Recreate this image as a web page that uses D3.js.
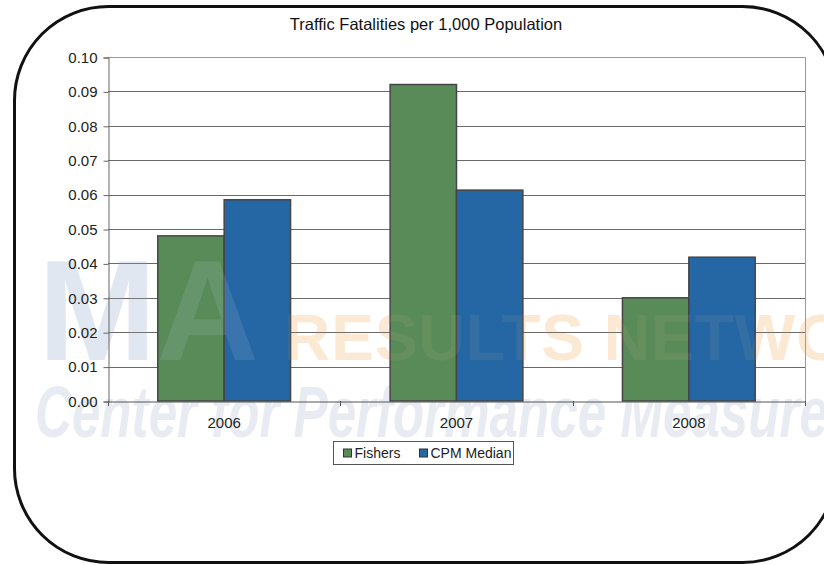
<!DOCTYPE html>
<html>
<head>
<meta charset="utf-8">
<script src="https://cdn.jsdelivr.net/npm/d3@7"></script>
<style>
  body { margin: 0; background: #fff; }
  svg { display: block; font-family: 'Liberation Sans', Arial, sans-serif; }
</style>
</head>
<body>
<div id="chart"></div>
<script>
// chart data
var years = ['2006', '2007', '2008'];
var seriesNames = ['Fishers', 'CPM Median'];
var fishers = [0.048, 0.092, 0.030];
var cpmMedian = [0.0585, 0.0613, 0.0418];
var yTicks = [0, 0.01, 0.02, 0.03, 0.04, 0.05, 0.06, 0.07, 0.08, 0.09, 0.10];
var colors = ['#598b59', '#2467a4'];

var W = 824, H = 565;
var margin = {left: 108, right: 19, top: 57, bottom: 164};

var svg = d3.select('#chart').append('svg')
  .attr('width', W)
  .attr('height', H);

// outer rounded frame (right edge runs past the picture)
svg.append('rect')
  .attr('x', 14.5).attr('y', 6.5)
  .attr('width', 822).attr('height', 556)
  .attr('rx', 94).attr('ry', 94)
  .attr('fill', '#fff')
  .attr('stroke', '#111')
  .attr('stroke-width', 3);

var x0 = d3.scaleBand()
  .domain(years)
  .range([margin.left, W - margin.right])
  .padding(0);

var x1 = d3.scaleBand()
  .domain(seriesNames)
  .range([0, x0.bandwidth()])
  .paddingInner(0)
  .paddingOuter(0.75);

var y = d3.scaleLinear()
  .domain([0, 0.10])
  .range([H - margin.bottom, margin.top]);

// watermark, back layer
var wm = svg.append('g').attr('pointer-events', 'none');
wm.append('text')
  .attr('x', 38).attr('y', 360)
  .attr('font-size', 142)
  .attr('font-weight', 'bold')
  .attr('fill', '#e4e9f2')
  .text('MA');
wm.append('text')
  .attr('x', 284).attr('y', 360)
  .attr('font-size', 64)
  .attr('font-weight', 'bold')
  .attr('letter-spacing', 1)
  .attr('fill', '#fcecd9')
  .text('RESULTS NETWORK');
wm.append('text')
  .attr('x', 35).attr('y', 437)
  .attr('font-size', 72)
  .attr('font-weight', 'bold')
  .attr('font-style', 'italic')
  .attr('textLength', 915)
  .attr('lengthAdjust', 'spacingAndGlyphs')
  .attr('fill', '#e8ecf2')
  .text('Center for Performance Measurement');

// gridlines
svg.append('g')
  .selectAll('line')
  .data(yTicks.slice(1, -1))
  .enter()
  .append('line')
  .attr('x1', margin.left).attr('x2', W - margin.right)
  .attr('y1', d => Math.round(y(d)) + 0.5)
  .attr('y2', d => Math.round(y(d)) + 0.5)
  .attr('stroke', '#6a6a6a');

// plot frame top & right
svg.append('path')
  .attr('d', 'M' + margin.left + ',' + (Math.round(y(0.10)) + 0.5) +
    'H' + (W - margin.right + 0.5) + 'V' + (Math.round(y(0)) + 0.5))
  .attr('fill', 'none')
  .attr('stroke', '#999');

var data = years.map((yr, i) => ({year: yr, values: [fishers[i], cpmMedian[i]]}));

var groups = svg.append('g')
  .selectAll('g')
  .data(data)
  .enter()
  .append('g')
  .attr('transform', d => 'translate(' + x0(d.year) + ',0)');

groups.selectAll('rect')
  .data(d => d.values.map((v, i) => ({name: seriesNames[i], value: v, i: i})))
  .enter()
  .append('rect')
  .attr('x', d => x1(d.name))
  .attr('y', d => y(d.value))
  .attr('width', x1.bandwidth())
  .attr('height', d => y(0) - y(d.value))
  .attr('fill', d => colors[d.i])
  .attr('stroke', '#454545')
  .attr('stroke-width', 1.5);

// faint watermark tint over bars
var wt = svg.append('g').attr('pointer-events', 'none');
wt.append('text')
  .attr('x', 38).attr('y', 360)
  .attr('font-size', 142)
  .attr('font-weight', 'bold')
  .attr('fill', '#cfdbea')
  .attr('opacity', 0.12)
  .text('MA');
wt.append('text')
  .attr('x', 284).attr('y', 360)
  .attr('font-size', 64)
  .attr('font-weight', 'bold')
  .attr('letter-spacing', 1)
  .attr('fill', '#f5c890')
  .attr('opacity', 0.08)
  .text('RESULTS NETWORK');

// y axis
var yAxis = d3.axisLeft(y)
  .tickValues(yTicks)
  .tickSize(5)
  .tickFormat(d3.format('.2f'));

var gy = svg.append('g')
  .attr('transform', 'translate(' + (margin.left + 0.5) + ',0.5)')
  .call(yAxis);
gy.select('.domain').attr('stroke', '#666');
gy.selectAll('.tick line').attr('stroke', '#666');
gy.selectAll('text')
  .attr('font-size', 15)
  .attr('font-family', 'Liberation Sans, Arial, sans-serif')
  .attr('fill', '#222')
  .attr('x', -11);

// x axis
var gx = svg.append('g')
  .attr('transform', 'translate(0,' + (Math.round(y(0)) + 0.5) + ')')
  .call(d3.axisBottom(x0).tickSize(0).tickPadding(16));
gx.select('.domain').attr('stroke', '#555');
gx.selectAll('text')
  .attr('font-size', 15)
  .attr('font-family', 'Liberation Sans, Arial, sans-serif')
  .attr('fill', '#222');

// category separator ticks
var bounds = years.map(yr => x0(yr)).concat([W - margin.right]);
svg.append('g')
  .selectAll('line')
  .data(bounds)
  .enter()
  .append('line')
  .attr('x1', d => Math.round(d) + 0.5).attr('x2', d => Math.round(d) + 0.5)
  .attr('y1', Math.round(y(0))).attr('y2', Math.round(y(0)) + 5)
  .attr('stroke', '#555');

// title
svg.append('text')
  .attr('x', 426).attr('y', 30)
  .attr('text-anchor', 'middle')
  .attr('font-size', 16.5)
  .attr('fill', '#111')
  .text('Traffic Fatalities per 1,000 Population');

// legend
var lg = svg.append('g').attr('transform', 'translate(333.5,441.5)');
lg.append('rect')
  .attr('width', 180).attr('height', 23)
  .attr('fill', '#fff')
  .attr('stroke', '#555');
var lx = [10, 86];
seriesNames.forEach((s, i) => {
  lg.append('rect')
    .attr('x', lx[i]).attr('y', 7.5)
    .attr('width', 8).attr('height', 8)
    .attr('fill', colors[i])
    .attr('stroke', '#333');
  lg.append('text')
    .attr('x', lx[i] + 11).attr('y', 16.5)
    .attr('font-size', 14)
    .attr('fill', '#222')
    .text(s);
});
</script>
</body>
</html>
